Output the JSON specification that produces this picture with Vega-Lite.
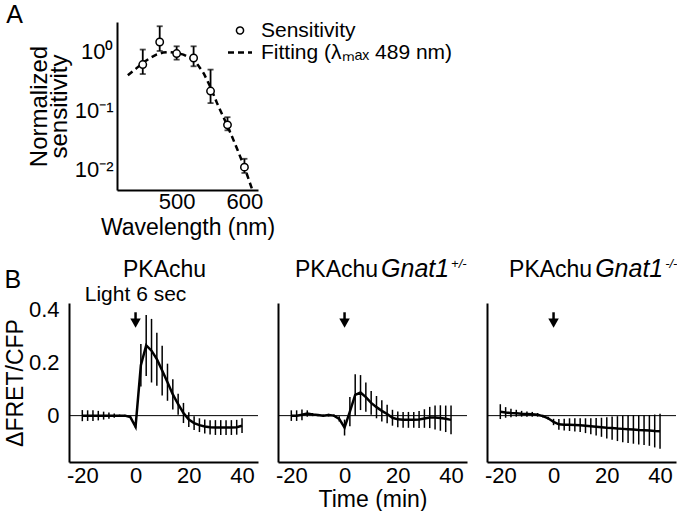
{
  "$schema": "https://vega.github.io/schema/vega-lite/v6.json",
  "padding": {"left": 4, "top": 3, "right": 0, "bottom": 0},
  "config": {
    "font": "Liberation Sans",
    "view": {"stroke": null},
    "axis": {"grid": false, "domainColor": "black", "domainWidth": 2, "tickColor": "black", "tickWidth": 2, "tickSize": 0, "labelColor": "black", "labelFontSize": 22, "titleColor": "black", "titleFontSize": 23, "titleFontWeight": "normal", "labelOverlap": false, "labelFlush": false},
    "legend": {"labelColor": "black", "labelFontSize": 21, "labelLimit": 400},
    "title": {"color": "black", "fontWeight": "normal", "fontSize": 25}
  },
  "datasets": {
    "sens": [
      {"wl": 450, "s": 0.61, "lo": 0.42, "hi": 1.1, "series": "Sensitivity"},
      {"wl": 475, "s": 1.48, "lo": 1.04, "hi": 2.75, "series": "Sensitivity"},
      {"wl": 500, "s": 0.94, "lo": 0.74, "hi": 1.25, "series": "Sensitivity"},
      {"wl": 525, "s": 0.79, "lo": 0.57, "hi": 1.25, "series": "Sensitivity"},
      {"wl": 550, "s": 0.215, "lo": 0.134, "hi": 0.5, "series": "Sensitivity"},
      {"wl": 575, "s": 0.057, "lo": 0.046, "hi": 0.077, "series": "Sensitivity"},
      {"wl": 600, "s": 0.0108, "lo": 0.0086, "hi": 0.015, "series": "Sensitivity"}
    ],
    "fit": [
      {"wl": 428, "v": 0.40, "series": "Fitting (λₘₐₓ 489 nm)"},
      {"wl": 440, "v": 0.52, "series": "Fitting (λₘₐₓ 489 nm)"},
      {"wl": 450, "v": 0.65, "series": "Fitting (λₘₐₓ 489 nm)"},
      {"wl": 460, "v": 0.78, "series": "Fitting (λₘₐₓ 489 nm)"},
      {"wl": 470, "v": 0.90, "series": "Fitting (λₘₐₓ 489 nm)"},
      {"wl": 480, "v": 0.98, "series": "Fitting (λₘₐₓ 489 nm)"},
      {"wl": 489, "v": 1.0, "series": "Fitting (λₘₐₓ 489 nm)"},
      {"wl": 500, "v": 0.97, "series": "Fitting (λₘₐₓ 489 nm)"},
      {"wl": 510, "v": 0.90, "series": "Fitting (λₘₐₓ 489 nm)"},
      {"wl": 520, "v": 0.79, "series": "Fitting (λₘₐₓ 489 nm)"},
      {"wl": 530, "v": 0.63, "series": "Fitting (λₘₐₓ 489 nm)"},
      {"wl": 540, "v": 0.43, "series": "Fitting (λₘₐₓ 489 nm)"},
      {"wl": 550, "v": 0.25, "series": "Fitting (λₘₐₓ 489 nm)"},
      {"wl": 560, "v": 0.13, "series": "Fitting (λₘₐₓ 489 nm)"},
      {"wl": 570, "v": 0.073, "series": "Fitting (λₘₐₓ 489 nm)"},
      {"wl": 580, "v": 0.040, "series": "Fitting (λₘₐₓ 489 nm)"},
      {"wl": 590, "v": 0.021, "series": "Fitting (λₘₐₓ 489 nm)"},
      {"wl": 600, "v": 0.0108, "series": "Fitting (λₘₐₓ 489 nm)"},
      {"wl": 610, "v": 0.0050, "series": "Fitting (λₘₐₓ 489 nm)"},
      {"wl": 616, "v": 0.0032, "series": "Fitting (λₘₐₓ 489 nm)"}
    ],
    "pka": [
      {"g": "wt", "t": -20, "m": 0, "lo": -0.021, "hi": 0.021},
      {"g": "wt", "t": -18, "m": 0, "lo": -0.02, "hi": 0.02},
      {"g": "wt", "t": -16, "m": 0, "lo": -0.02, "hi": 0.02},
      {"g": "wt", "t": -14, "m": 0, "lo": -0.018, "hi": 0.018},
      {"g": "wt", "t": -12, "m": 0, "lo": -0.015, "hi": 0.015},
      {"g": "wt", "t": -10, "m": 0, "lo": -0.012, "hi": 0.012},
      {"g": "wt", "t": -8, "m": 0, "lo": -0.008, "hi": 0.008},
      {"g": "wt", "t": -6, "m": 0, "lo": -0.004, "hi": 0.004},
      {"g": "wt", "t": -4, "m": 0, "lo": -0.003, "hi": 0.003},
      {"g": "wt", "t": -2, "m": -0.005, "lo": -0.008, "hi": -0.002},
      {"g": "wt", "t": 0, "m": -0.042, "lo": -0.047, "hi": -0.037},
      {"g": "wt", "t": 2, "m": 0.19, "lo": 0.11, "hi": 0.27},
      {"g": "wt", "t": 4, "m": 0.265, "lo": 0.15, "hi": 0.38},
      {"g": "wt", "t": 6, "m": 0.245, "lo": 0.125, "hi": 0.365},
      {"g": "wt", "t": 8, "m": 0.213, "lo": 0.113, "hi": 0.313},
      {"g": "wt", "t": 10, "m": 0.17, "lo": 0.076, "hi": 0.264},
      {"g": "wt", "t": 12, "m": 0.126, "lo": 0.056, "hi": 0.196},
      {"g": "wt", "t": 14, "m": 0.08, "lo": 0.023, "hi": 0.137},
      {"g": "wt", "t": 16, "m": 0.043, "lo": 0.003, "hi": 0.083},
      {"g": "wt", "t": 18, "m": 0.01, "lo": -0.028, "hi": 0.048},
      {"g": "wt", "t": 20, "m": -0.015, "lo": -0.043, "hi": 0.013},
      {"g": "wt", "t": 22, "m": -0.028, "lo": -0.054, "hi": -0.002},
      {"g": "wt", "t": 24, "m": -0.036, "lo": -0.062, "hi": -0.01},
      {"g": "wt", "t": 26, "m": -0.041, "lo": -0.067, "hi": -0.015},
      {"g": "wt", "t": 28, "m": -0.044, "lo": -0.071, "hi": -0.017},
      {"g": "wt", "t": 30, "m": -0.045, "lo": -0.073, "hi": -0.017},
      {"g": "wt", "t": 32, "m": -0.045, "lo": -0.073, "hi": -0.017},
      {"g": "wt", "t": 34, "m": -0.045, "lo": -0.073, "hi": -0.017},
      {"g": "wt", "t": 36, "m": -0.045, "lo": -0.073, "hi": -0.017},
      {"g": "wt", "t": 38, "m": -0.044, "lo": -0.072, "hi": -0.016},
      {"g": "wt", "t": 40, "m": -0.038, "lo": -0.066, "hi": -0.01},
      {"g": "het", "t": -20, "m": 0, "lo": -0.02, "hi": 0.02},
      {"g": "het", "t": -18, "m": 0, "lo": -0.02, "hi": 0.02},
      {"g": "het", "t": -16, "m": 0.003, "lo": -0.017, "hi": 0.023},
      {"g": "het", "t": -14, "m": 0.008, "lo": -0.004, "hi": 0.02},
      {"g": "het", "t": -12, "m": 0.004, "lo": -0.002, "hi": 0.01},
      {"g": "het", "t": -10, "m": 0.002, "lo": -0.002, "hi": 0.006},
      {"g": "het", "t": -8, "m": 0, "lo": -0.004, "hi": 0.004},
      {"g": "het", "t": -6, "m": 0.002, "lo": -0.003, "hi": 0.007},
      {"g": "het", "t": -4, "m": 0, "lo": -0.004, "hi": 0.004},
      {"g": "het", "t": -2, "m": -0.012, "lo": -0.022, "hi": -0.002},
      {"g": "het", "t": 0, "m": -0.045, "lo": -0.075, "hi": -0.015},
      {"g": "het", "t": 2, "m": 0.015, "lo": -0.04, "hi": 0.07},
      {"g": "het", "t": 4, "m": 0.078, "lo": 0, "hi": 0.156},
      {"g": "het", "t": 6, "m": 0.087, "lo": 0.021, "hi": 0.153},
      {"g": "het", "t": 8, "m": 0.07, "lo": 0.015, "hi": 0.125},
      {"g": "het", "t": 10, "m": 0.048, "lo": 0.003, "hi": 0.093},
      {"g": "het", "t": 12, "m": 0.032, "lo": -0.01, "hi": 0.074},
      {"g": "het", "t": 14, "m": 0.018, "lo": -0.022, "hi": 0.058},
      {"g": "het", "t": 16, "m": 0.006, "lo": -0.029, "hi": 0.041},
      {"g": "het", "t": 18, "m": -0.008, "lo": -0.038, "hi": 0.022},
      {"g": "het", "t": 20, "m": -0.014, "lo": -0.044, "hi": 0.016},
      {"g": "het", "t": 22, "m": -0.016, "lo": -0.046, "hi": 0.014},
      {"g": "het", "t": 24, "m": -0.016, "lo": -0.046, "hi": 0.014},
      {"g": "het", "t": 26, "m": -0.016, "lo": -0.046, "hi": 0.014},
      {"g": "het", "t": 28, "m": -0.015, "lo": -0.047, "hi": 0.017},
      {"g": "het", "t": 30, "m": -0.011, "lo": -0.046, "hi": 0.024},
      {"g": "het", "t": 32, "m": -0.007, "lo": -0.047, "hi": 0.033},
      {"g": "het", "t": 34, "m": -0.007, "lo": -0.052, "hi": 0.038},
      {"g": "het", "t": 36, "m": -0.009, "lo": -0.057, "hi": 0.039},
      {"g": "het", "t": 38, "m": -0.012, "lo": -0.062, "hi": 0.038},
      {"g": "het", "t": 40, "m": -0.016, "lo": -0.07, "hi": 0.038},
      {"g": "ko", "t": -20, "m": 0.015, "lo": -0.013, "hi": 0.043},
      {"g": "ko", "t": -18, "m": 0.012, "lo": -0.008, "hi": 0.032},
      {"g": "ko", "t": -16, "m": 0.01, "lo": -0.006, "hi": 0.026},
      {"g": "ko", "t": -14, "m": 0.009, "lo": -0.004, "hi": 0.022},
      {"g": "ko", "t": -12, "m": 0.007, "lo": -0.004, "hi": 0.018},
      {"g": "ko", "t": -10, "m": 0.006, "lo": -0.004, "hi": 0.016},
      {"g": "ko", "t": -8, "m": 0.005, "lo": -0.004, "hi": 0.014},
      {"g": "ko", "t": -6, "m": 0.003, "lo": -0.004, "hi": 0.01},
      {"g": "ko", "t": -4, "m": -0.002, "lo": -0.007, "hi": 0.003},
      {"g": "ko", "t": -2, "m": -0.01, "lo": -0.016, "hi": -0.004},
      {"g": "ko", "t": 0, "m": -0.024, "lo": -0.036, "hi": -0.012},
      {"g": "ko", "t": 2, "m": -0.033, "lo": -0.053, "hi": -0.013},
      {"g": "ko", "t": 4, "m": -0.034, "lo": -0.056, "hi": -0.012},
      {"g": "ko", "t": 6, "m": -0.034, "lo": -0.058, "hi": -0.01},
      {"g": "ko", "t": 8, "m": -0.035, "lo": -0.06, "hi": -0.01},
      {"g": "ko", "t": 10, "m": -0.036, "lo": -0.062, "hi": -0.01},
      {"g": "ko", "t": 12, "m": -0.038, "lo": -0.066, "hi": -0.01},
      {"g": "ko", "t": 14, "m": -0.04, "lo": -0.07, "hi": -0.01},
      {"g": "ko", "t": 16, "m": -0.042, "lo": -0.075, "hi": -0.009},
      {"g": "ko", "t": 18, "m": -0.044, "lo": -0.08, "hi": -0.008},
      {"g": "ko", "t": 20, "m": -0.046, "lo": -0.086, "hi": -0.006},
      {"g": "ko", "t": 22, "m": -0.047, "lo": -0.091, "hi": -0.003},
      {"g": "ko", "t": 24, "m": -0.049, "lo": -0.096, "hi": -0.002},
      {"g": "ko", "t": 26, "m": -0.05, "lo": -0.1, "hi": 0},
      {"g": "ko", "t": 28, "m": -0.051, "lo": -0.103, "hi": 0.001},
      {"g": "ko", "t": 30, "m": -0.052, "lo": -0.106, "hi": 0.002},
      {"g": "ko", "t": 32, "m": -0.054, "lo": -0.109, "hi": 0.001},
      {"g": "ko", "t": 34, "m": -0.055, "lo": -0.111, "hi": 0.001},
      {"g": "ko", "t": 36, "m": -0.056, "lo": -0.114, "hi": 0.002},
      {"g": "ko", "t": 38, "m": -0.058, "lo": -0.12, "hi": 0.004},
      {"g": "ko", "t": 40, "m": -0.059, "lo": -0.125, "hi": 0.007}
    ]
  },
  "columns": 1,
  "spacing": 17,
  "concat": [
    {
      "bounds": "flush",
      "spacing": 20,
      "hconcat": [
        {"width": 28, "height": 168, "data": {"values": []}, "mark": "point", "encoding": {}},
        {
          "width": 141,
          "height": 168,
          "title": {"text": "A", "anchor": "start", "frame": "bounds", "dx": -21, "offset": -35, "baseline": "alphabetic"},
          "layer": [
            {
              "data": {"name": "fit"},
              "mark": {"type": "line", "strokeWidth": 2.5, "strokeDash": [6, 4], "clip": true},
              "encoding": {
                "x": {"field": "wl", "type": "quantitative", "scale": {"domain": [412, 620], "nice": false, "zero": false},
                  "axis": {"values": [450, 500, 550, 600], "labelExpr": "datum.value == 500 || datum.value == 600 ? '' + datum.value : ''", "title": "Wavelength (nm)", "labelPadding": 1, "titlePadding": 4, "encode": {"ticks": {"update": {"y2": {"value": -7}}}}}},
                "y": {"field": "v", "type": "quantitative", "scale": {"type": "log", "domain": [0.0044, 3.25], "nice": false},
                  "axis": {"values": [0.005, 0.006, 0.007, 0.008, 0.009, 0.01, 0.02, 0.03, 0.04, 0.05, 0.06, 0.07, 0.08, 0.09, 0.1, 0.2, 0.3, 0.4, 0.5, 0.6, 0.7, 0.8, 0.9, 1, 2, 3],
                    "labelExpr": "datum.value == 1 ? '10⁰' : datum.value == 0.1 ? '10⁻¹' : datum.value == 0.01 ? '10⁻²' : ''",
                    "title": ["Normalized", "sensitivity"], "titleFontSize": 24, "titleLineHeight": 20, "labelPadding": 4, "titlePadding": 3,
                    "encode": {"ticks": {"update": {"x2": {"signal": "(datum.value == 1 || datum.value == 0.1 || datum.value == 0.01) ? 8 : 4"}}}}}},
                "color": {"field": "series", "type": "nominal", "scale": {"domain": ["Sensitivity", "Fitting (λₘₐₓ 489 nm)"], "range": ["black", "black"]},
                  "legend": {"orient": "none", "legendX": 159, "legendY": -2, "title": null, "symbolType": "stroke", "symbolSize": 576, "labelOffset": 12, "labelFontSize": 21, "rowPadding": 0,
                    "encode": {"symbols": {"update": {
                      "x": {"value": 12},
                      "shape": {"signal": "datum.value === 'Sensitivity' ? 'circle' : 'stroke'"},
                      "size": {"signal": "datum.value === 'Sensitivity' ? 50 : 576"},
                      "strokeDash": {"signal": "datum.value === 'Sensitivity' ? [1, 0] : [6, 4]"},
                      "fill": {"signal": "datum.value === 'Sensitivity' ? 'white' : 'transparent'"},
                      "stroke": {"value": "black"},
                      "strokeWidth": {"signal": "datum.value === 'Sensitivity' ? 1.5 : 2.5"},
                      "opacity": {"value": 1}
                    }}}}}
              }
            },
            {
              "data": {"name": "sens"},
              "mark": {"type": "errorbar", "color": "black", "thickness": 1.8, "ticks": {"size": 6, "thickness": 1.8}},
              "encoding": {
                "x": {"field": "wl", "type": "quantitative"},
                "y": {"field": "lo", "type": "quantitative", "axis": {"title": ["Normalized", "sensitivity"]}},
                "y2": {"field": "hi"}
              }
            },
            {
              "data": {"name": "sens"},
              "mark": {"type": "point", "filled": false, "fill": "white", "strokeWidth": 1.5, "size": 55, "opacity": 1},
              "encoding": {
                "x": {"field": "wl", "type": "quantitative"},
                "y": {"field": "s", "type": "quantitative", "axis": {"title": ["Normalized", "sensitivity"]}},
                "color": {"field": "series", "type": "nominal"}
              }
            }
          ]
        }
      ]
    },
    {
      "title": {"text": "B", "anchor": "start", "frame": "bounds", "offset": -56, "baseline": "alphabetic"},
      "bounds": "flush",
      "spacing": 20,
      "hconcat": [
        {
          "width": 189,
          "height": 159,
          "layer": [
            {
              "data": {"name": "pka"}, "transform": [{"filter": "datum.g == 'wt'"}],
              "mark": {"type": "line", "color": "black", "strokeWidth": 2.5},
              "encoding": {
                "x": {"field": "t", "type": "quantitative", "scale": {"domain": [-25, 46], "nice": false, "zero": false},
                  "axis": {"values": [-20, -10, 0, 10, 20, 30, 40], "labelExpr": "datum.value % 20 == 0 ? '' + datum.value : ''", "title": null, "labelPadding": 3, "encode": {"ticks": {"update": {"y2": {"value": -7}}}}}},
                "y": {"field": "m", "type": "quantitative", "scale": {"domain": [-0.175, 0.425], "nice": false, "zero": false},
                  "axis": {"values": [-0.1, 0, 0.1, 0.2, 0.3, 0.4], "labelExpr": "datum.value == 0 ? '0' : datum.value == 0.2 ? '0.2' : datum.value == 0.4 ? '0.4' : ''", "title": "ΔFRET/CFP", "labelPadding": 10, "titlePadding": 1, "encode": {"ticks": {"update": {"x2": {"value": 7}}}}}}
              }
            },
            {
              "data": {"name": "pka"}, "transform": [{"filter": "datum.g == 'wt'"}],
              "mark": {"type": "rule", "color": "black", "strokeWidth": 1.5},
              "encoding": {"x": {"field": "t", "type": "quantitative"},
                "y": {"field": "lo", "type": "quantitative", "axis": {"values": [-0.1, 0, 0.1, 0.2, 0.3, 0.4], "labelExpr": "datum.value == 0 ? '0' : datum.value == 0.2 ? '0.2' : datum.value == 0.4 ? '0.4' : ''", "title": "ΔFRET/CFP", "labelPadding": 10, "titlePadding": 1, "encode": {"ticks": {"update": {"x2": {"value": 7}}}}}},
                "y2": {"field": "hi"}}
            },
            {"data": {"values": [{}]}, "mark": {"type": "rule", "color": "black", "strokeWidth": 1}, "encoding": {"y": {"datum": 0, "type": "quantitative", "axis": {"values": [-0.1, 0, 0.1, 0.2, 0.3, 0.4], "labelExpr": "datum.value == 0 ? '0' : datum.value == 0.2 ? '0.2' : datum.value == 0.4 ? '0.4' : ''", "title": "ΔFRET/CFP", "labelPadding": 10, "titlePadding": 1, "encode": {"ticks": {"update": {"x2": {"value": 7}}}}}}}},
            {"data": {"values": [{"t": 0}]}, "mark": {"type": "rule", "color": "black", "strokeWidth": 2.5}, "encoding": {"x": {"field": "t", "type": "quantitative"}, "y": {"datum": 0.39, "axis": {"values": [-0.1, 0, 0.1, 0.2, 0.3, 0.4], "labelExpr": "datum.value == 0 ? '0' : datum.value == 0.2 ? '0.2' : datum.value == 0.4 ? '0.4' : ''", "title": "ΔFRET/CFP", "labelPadding": 10, "titlePadding": 1, "encode": {"ticks": {"update": {"x2": {"value": 7}}}}}}, "y2": {"datum": 0.355}}},
            {"data": {"values": [{"t": 0}]}, "mark": {"type": "point", "shape": "triangle-down", "filled": true, "color": "black", "size": 110, "opacity": 1}, "encoding": {"x": {"field": "t", "type": "quantitative"}, "y": {"datum": 0.349, "axis": {"values": [-0.1, 0, 0.1, 0.2, 0.3, 0.4], "labelExpr": "datum.value == 0 ? '0' : datum.value == 0.2 ? '0.2' : datum.value == 0.4 ? '0.4' : ''", "title": "ΔFRET/CFP", "labelPadding": 10, "titlePadding": 1, "encode": {"ticks": {"update": {"x2": {"value": 7}}}}}}}},
            {"data": {"values": [{"t": 0}]}, "mark": {"type": "text", "fontSize": 21, "align": "center", "baseline": "alphabetic", "color": "black"}, "encoding": {"x": {"field": "t", "type": "quantitative"}, "y": {"datum": 0.434, "axis": {"values": [-0.1, 0, 0.1, 0.2, 0.3, 0.4], "labelExpr": "datum.value == 0 ? '0' : datum.value == 0.2 ? '0.2' : datum.value == 0.4 ? '0.4' : ''", "title": "ΔFRET/CFP", "labelPadding": 10, "titlePadding": 1, "encode": {"ticks": {"update": {"x2": {"value": 7}}}}}}, "text": {"value": "Light 6 sec"}}},
            {"data": {"values": [{}]}, "mark": {"type": "text", "fontSize": 23, "align": "center", "baseline": "alphabetic", "color": "black"}, "encoding": {"x": {"datum": 10.9}, "y": {"datum": 0.5245, "axis": {"values": [-0.1, 0, 0.1, 0.2, 0.3, 0.4], "labelExpr": "datum.value == 0 ? '0' : datum.value == 0.2 ? '0.2' : datum.value == 0.4 ? '0.4' : ''", "title": "ΔFRET/CFP", "labelPadding": 10, "titlePadding": 1, "encode": {"ticks": {"update": {"x2": {"value": 7}}}}}}, "text": {"value": "PKAchu"}}}
          ]
        },
        {
          "width": 189,
          "height": 159,
          "layer": [
            {
              "data": {"name": "pka"}, "transform": [{"filter": "datum.g == 'het'"}],
              "mark": {"type": "line", "color": "black", "strokeWidth": 2.5},
              "encoding": {
                "x": {"field": "t", "type": "quantitative", "scale": {"domain": [-25, 46], "nice": false, "zero": false},
                  "axis": {"values": [-20, -10, 0, 10, 20, 30, 40], "labelExpr": "datum.value % 20 == 0 ? '' + datum.value : ''", "title": "Time (min)", "labelPadding": 3, "titlePadding": 2, "encode": {"ticks": {"update": {"y2": {"value": -7}}}}}},
                "y": {"field": "m", "type": "quantitative", "scale": {"domain": [-0.175, 0.425], "nice": false, "zero": false},
                  "axis": {"values": [-0.1, 0, 0.1, 0.2, 0.3, 0.4], "labels": false, "title": null, "encode": {"ticks": {"update": {"x2": {"value": 7}}}}}}
              }
            },
            {
              "data": {"name": "pka"}, "transform": [{"filter": "datum.g == 'het'"}],
              "mark": {"type": "rule", "color": "black", "strokeWidth": 1.5},
              "encoding": {"x": {"field": "t", "type": "quantitative"},
                "y": {"field": "lo", "type": "quantitative", "axis": {"values": [-0.1, 0, 0.1, 0.2, 0.3, 0.4], "labels": false, "title": null, "encode": {"ticks": {"update": {"x2": {"value": 7}}}}}},
                "y2": {"field": "hi"}}
            },
            {"data": {"values": [{}]}, "mark": {"type": "rule", "color": "black", "strokeWidth": 1}, "encoding": {"y": {"datum": 0, "type": "quantitative", "axis": {"values": [-0.1, 0, 0.1, 0.2, 0.3, 0.4], "labels": false, "title": null, "encode": {"ticks": {"update": {"x2": {"value": 7}}}}}}}},
            {"data": {"values": [{"t": 0}]}, "mark": {"type": "rule", "color": "black", "strokeWidth": 2.5}, "encoding": {"x": {"field": "t", "type": "quantitative"}, "y": {"datum": 0.39, "axis": {"values": [-0.1, 0, 0.1, 0.2, 0.3, 0.4], "labels": false, "title": null, "encode": {"ticks": {"update": {"x2": {"value": 7}}}}}}, "y2": {"datum": 0.355}}},
            {"data": {"values": [{"t": 0}]}, "mark": {"type": "point", "shape": "triangle-down", "filled": true, "color": "black", "size": 110, "opacity": 1}, "encoding": {"x": {"field": "t", "type": "quantitative"}, "y": {"datum": 0.349, "axis": {"values": [-0.1, 0, 0.1, 0.2, 0.3, 0.4], "labels": false, "title": null, "encode": {"ticks": {"update": {"x2": {"value": 7}}}}}}}},
            {"data": {"values": [{}]}, "mark": {"type": "text", "fontSize": 23, "align": "right", "baseline": "alphabetic", "color": "black"}, "encoding": {"x": {"datum": 12.6}, "y": {"datum": 0.5245, "axis": {"values": [-0.1, 0, 0.1, 0.2, 0.3, 0.4], "labels": false, "title": null, "encode": {"ticks": {"update": {"x2": {"value": 7}}}}}}, "text": {"value": "PKAchu"}}},
            {"data": {"values": [{}]}, "mark": {"type": "text", "fontSize": 25, "fontStyle": "italic", "align": "left", "dx": 3, "baseline": "alphabetic", "color": "black"}, "encoding": {"x": {"datum": 12.6}, "y": {"datum": 0.5245, "axis": {"values": [-0.1, 0, 0.1, 0.2, 0.3, 0.4], "labels": false, "title": null, "encode": {"ticks": {"update": {"x2": {"value": 7}}}}}}, "text": {"value": "Gnat1"}}},
            {"data": {"values": [{}]}, "mark": {"type": "text", "fontSize": 13, "fontStyle": "italic", "align": "left", "dx": 73, "dy": -9, "baseline": "alphabetic", "color": "black"}, "encoding": {"x": {"datum": 12.6}, "y": {"datum": 0.5245, "axis": {"values": [-0.1, 0, 0.1, 0.2, 0.3, 0.4], "labels": false, "title": null, "encode": {"ticks": {"update": {"x2": {"value": 7}}}}}}, "text": {"value": "+/-"}}}
          ]
        },
        {
          "width": 189,
          "height": 159,
          "layer": [
            {
              "data": {"name": "pka"}, "transform": [{"filter": "datum.g == 'ko'"}],
              "mark": {"type": "line", "color": "black", "strokeWidth": 2.5},
              "encoding": {
                "x": {"field": "t", "type": "quantitative", "scale": {"domain": [-25, 46], "nice": false, "zero": false},
                  "axis": {"values": [-20, -10, 0, 10, 20, 30, 40], "labelExpr": "datum.value % 20 == 0 ? '' + datum.value : ''", "title": null, "labelPadding": 3, "encode": {"ticks": {"update": {"y2": {"value": -7}}}}}},
                "y": {"field": "m", "type": "quantitative", "scale": {"domain": [-0.175, 0.425], "nice": false, "zero": false},
                  "axis": {"values": [-0.1, 0, 0.1, 0.2, 0.3, 0.4], "labels": false, "title": null, "encode": {"ticks": {"update": {"x2": {"value": 7}}}}}}
              }
            },
            {
              "data": {"name": "pka"}, "transform": [{"filter": "datum.g == 'ko'"}],
              "mark": {"type": "rule", "color": "black", "strokeWidth": 1.5},
              "encoding": {"x": {"field": "t", "type": "quantitative"},
                "y": {"field": "lo", "type": "quantitative", "axis": {"values": [-0.1, 0, 0.1, 0.2, 0.3, 0.4], "labels": false, "title": null, "encode": {"ticks": {"update": {"x2": {"value": 7}}}}}},
                "y2": {"field": "hi"}}
            },
            {"data": {"values": [{}]}, "mark": {"type": "rule", "color": "black", "strokeWidth": 1}, "encoding": {"y": {"datum": 0, "type": "quantitative", "axis": {"values": [-0.1, 0, 0.1, 0.2, 0.3, 0.4], "labels": false, "title": null, "encode": {"ticks": {"update": {"x2": {"value": 7}}}}}}}},
            {"data": {"values": [{"t": 0}]}, "mark": {"type": "rule", "color": "black", "strokeWidth": 2.5}, "encoding": {"x": {"field": "t", "type": "quantitative"}, "y": {"datum": 0.39, "axis": {"values": [-0.1, 0, 0.1, 0.2, 0.3, 0.4], "labels": false, "title": null, "encode": {"ticks": {"update": {"x2": {"value": 7}}}}}}, "y2": {"datum": 0.355}}},
            {"data": {"values": [{"t": 0}]}, "mark": {"type": "point", "shape": "triangle-down", "filled": true, "color": "black", "size": 110, "opacity": 1}, "encoding": {"x": {"field": "t", "type": "quantitative"}, "y": {"datum": 0.349, "axis": {"values": [-0.1, 0, 0.1, 0.2, 0.3, 0.4], "labels": false, "title": null, "encode": {"ticks": {"update": {"x2": {"value": 7}}}}}}}},
            {"data": {"values": [{}]}, "mark": {"type": "text", "fontSize": 23, "align": "right", "baseline": "alphabetic", "color": "black"}, "encoding": {"x": {"datum": 14.5}, "y": {"datum": 0.5245, "axis": {"values": [-0.1, 0, 0.1, 0.2, 0.3, 0.4], "labels": false, "title": null, "encode": {"ticks": {"update": {"x2": {"value": 7}}}}}}, "text": {"value": "PKAchu"}}},
            {"data": {"values": [{}]}, "mark": {"type": "text", "fontSize": 25, "fontStyle": "italic", "align": "left", "dx": 3, "baseline": "alphabetic", "color": "black"}, "encoding": {"x": {"datum": 14.5}, "y": {"datum": 0.5245, "axis": {"values": [-0.1, 0, 0.1, 0.2, 0.3, 0.4], "labels": false, "title": null, "encode": {"ticks": {"update": {"x2": {"value": 7}}}}}}, "text": {"value": "Gnat1"}}},
            {"data": {"values": [{}]}, "mark": {"type": "text", "fontSize": 13, "fontStyle": "italic", "align": "left", "dx": 73, "dy": -9, "baseline": "alphabetic", "color": "black"}, "encoding": {"x": {"datum": 14.5}, "y": {"datum": 0.5245, "axis": {"values": [-0.1, 0, 0.1, 0.2, 0.3, 0.4], "labels": false, "title": null, "encode": {"ticks": {"update": {"x2": {"value": 7}}}}}}, "text": {"value": "-/-"}}}
          ]
        }
      ]
    }
  ]
}
